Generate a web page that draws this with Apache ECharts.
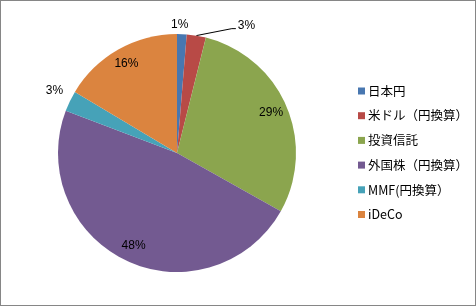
<!DOCTYPE html>
<html>
<head>
<meta charset="utf-8">
<script src="https://cdn.jsdelivr.net/npm/echarts@6/dist/echarts.min.js"></script>
<style>
  html, body { margin: 0; padding: 0; background: #fff; }
  #chart { width: 474px; height: 304px; border: 1px solid #868686; }
</style>
</head>
<body>
<div id="chart"></div>
<script>
let categories = ['日本円', '米ドル（円換算）', '投資信託', '外国株（円換算）', 'MMF(円換算）', 'iDeCo'];
let shares = [1.3, 2.6, 29.2, 47.6, 2.8, 16.4];
let colors = ['#4877B0', '#B84A46', '#8BA54E', '#735A91', '#46A2B8', '#DB843F'];
// small slices get their label outside the pie
let outsideLabel = [true, true, false, false, true, false];
// nudges for the outside labels, as Excel placed them
let labelNudge = [[-13, -6], [39, -7], [0, 0], [0, 0], [-2, -9], [0, 0]];

let chart = echarts.init(document.getElementById('chart'));
let center = [176, 152];
let labelFont = { fontFamily: 'Liberation Sans, Arial, sans-serif', fontSize: 12, color: '#000' };

let pieData = categories.map((name, i) => ({
  name: name,
  value: shares[i],
  itemStyle: { color: colors[i] }
}));

// overlay ring only for placing the inside labels near the rim
let ringData = categories.map((name, i) => ({
  name: name,
  value: shares[i],
  label: { show: !outsideLabel[i] }
}));

let outerData = categories.map((name, i) => ({
  name: name,
  value: shares[i],
  label: { show: outsideLabel[i] },
  labelLine: { show: i === 1, length: 3, length2: 0 }
}));

let pctFormatter = function(p) { return Math.round(p.percent) + '%'; };

let option = {
  animation: false,
  color: colors,
  legend: {
    orient: 'vertical',
    left: 357,
    top: 83,
    padding: 0,
    itemWidth: 7,
    itemHeight: 7,
    itemGap: 10.7,
    icon: 'rect',
    data: categories,
    textStyle: {
      fontFamily: 'Noto Sans CJK JP, sans-serif',
      fontSize: 12.5,
      lineHeight: 14,
      color: '#000',
      padding: [0, 0, 0, -2]
    }
  },
  series: [
    {
      type: 'pie',
      center: center,
      radius: [0, 119],
      startAngle: 90,
      clockwise: true,
      label: { show: false },
      labelLine: { show: false },
      emphasis: { disabled: true },
      data: pieData
    },
    {
      type: 'pie',
      center: center,
      radius: [80, 119],
      startAngle: 90,
      silent: true,
      itemStyle: { color: 'rgba(0,0,0,0)' },
      label: Object.assign({ position: 'inside', formatter: pctFormatter }, labelFont),
      labelLine: { show: false },
      data: ringData
    },
    {
      type: 'pie',
      center: center,
      radius: [0, 119],
      startAngle: 90,
      silent: true,
      avoidLabelOverlap: false,
      itemStyle: { color: 'rgba(0,0,0,0)' },
      label: Object.assign({ position: 'outside', formatter: pctFormatter, distanceToLabelLine: 2 }, labelFont),
      labelLine: { lineStyle: { color: '#000', width: 1 } },
      labelLayout: function(p) {
        let n = labelNudge[p.dataIndex];
        let out = { dx: n[0], dy: n[1] };
        // leader line: from the slice edge, slanted up to just left of the moved label
        if (p.labelLinePoints) {
          let lx = p.labelRect.x + n[0];
          let ly = p.labelRect.y + n[1] + p.labelRect.height / 2 + 3;
          out.labelLinePoints = [p.labelLinePoints[0], [lx - 6, ly], [lx - 2, ly]];
        }
        return out;
      },
      data: outerData
    }
  ]
};
chart.setOption(option);
</script>
</body>
</html>
